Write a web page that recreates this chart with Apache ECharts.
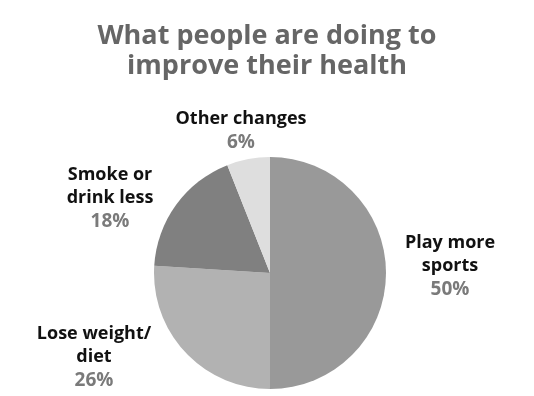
<!DOCTYPE html>
<html>
<head>
<meta charset="utf-8">
<script src="https://cdn.jsdelivr.net/npm/echarts@6/dist/echarts.min.js"></script>
<style>
  html, body { margin: 0; padding: 0; background: #fff; }
  #chart { width: 534px; height: 396px; }
</style>
</head>
<body>
<div id="chart"></div>
<script>
// data
const categories = ['Play more\nsports', 'Lose weight/\ndiet', 'Smoke or\ndrink less', 'Other changes']
const values = [50, 26, 18, 6]
const colors = ['#999999', '#b2b2b2', '#808080', '#dedede']

// where each label block sits (centre of the text block)
const labelSpots = [[450, 267], [94, 358], [110, 199], [241, 131]]

const chart = echarts.init(document.getElementById('chart'))

const option = {
  backgroundColor: '#ffffff',
  title: {
    text: 'What people are doing to\nimprove their health',
    left: 'center',
    top: 16,
    textStyle: {
      fontFamily: 'Open Sans',
      fontWeight: 'bold',
      fontSize: 27,
      lineHeight: 30,
      color: '#666666'
    }
  },
  series: [
    {
      type: 'pie',
      center: [270, 273],
      radius: 116,
      startAngle: 90,
      clockwise: true,
      silent: true,
      data: categories.map((name, i) => ({
        name: name,
        value: values[i],
        itemStyle: { color: colors[i] }
      })),
      label: {
        show: true,
        overflow: 'none',
        edgeDistance: 0,
        formatter: p => '{n|' + p.name.split('\n').join('}\n{n|') + '}\n{p|' + p.value + '%}',
        rich: {
          n: {
            fontFamily: 'Open Sans',
            fontWeight: 'bold',
            fontSize: 18,
            lineHeight: 23,
            color: '#111111',
            align: 'center'
          },
          p: {
            fontFamily: 'Open Sans',
            fontWeight: 'bold',
            fontSize: 19,
            lineHeight: 25,
            color: '#7a7a7a',
            align: 'center'
          }
        }
      },
      labelLine: { show: false },
      labelLayout: params => ({
        x: labelSpots[params.dataIndex][0],
        y: labelSpots[params.dataIndex][1],
        align: 'center',
        verticalAlign: 'middle'
      })
    }
  ]
}

chart.setOption(option)
</script>
</body>
</html>
